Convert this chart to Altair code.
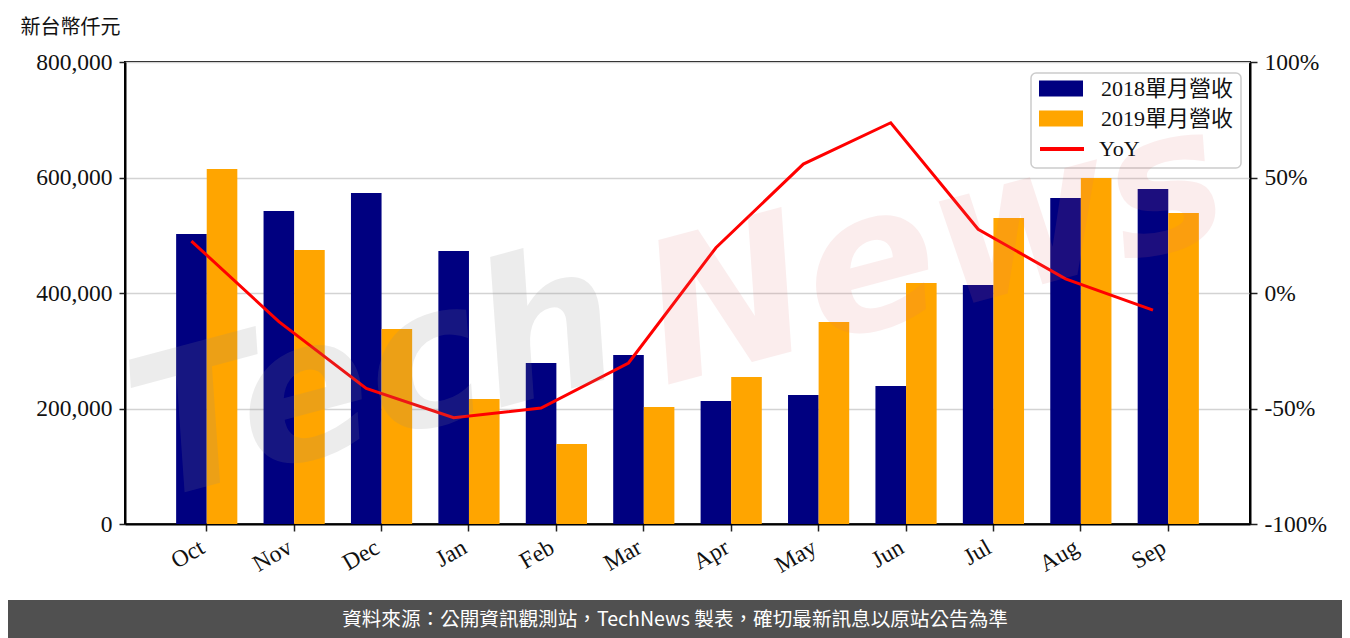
import altair as alt
import pandas as pd

# ---------------- data ----------------
months = ["Oct", "Nov", "Dec", "Jan", "Feb", "Mar", "Apr", "May", "Jun", "Jul", "Aug", "Sep"]
rev_2018 = [502000, 542000, 573000, 472700, 279000, 292600, 213000, 223400, 239000, 413900, 564500, 580000]
rev_2019 = [614700, 474500, 337700, 216500, 138500, 202600, 254500, 349800, 417300, 529900, 599000, 538500]
yoy_pct = [22.5, -12.4, -41.3, -54.0, -49.8, -30.3, 19.6, 55.8, 73.7, 27.6, 6.1, -7.4]
bar_series = ["2018單月營收", "2019單月營收"]
bar_colors = ["#000080", "#FFA500"]
line_series = ["YoY"]
line_colors = ["#FF0000"]
y_title = "新台幣仟元"
footer_text = "資料來源：公開資訊觀測站，TechNews 製表，確切最新訊息以原站公告為準"

bars_df = pd.DataFrame(
    [{"month": m, "series": bar_series[0], "value": v} for m, v in zip(months, rev_2018)]
    + [{"month": m, "series": bar_series[1], "value": v} for m, v in zip(months, rev_2019)]
)
line_df = pd.DataFrame({"month": months, "yoy": yoy_pct, "series": line_series[0],
                        "idx": list(range(len(months)))})

# ---------------- layout ----------------
W, H = 1125, 462
PAD_IN, PAD_OUT = 0.3, 0.585
step = W / (len(months) - PAD_IN + 2 * PAD_OUT)
FONT = "Liberation Serif, Noto Sans CJK TC"
SANS = "Noto Sans CJK TC"
TICK_FS = 23.5

x_enc = alt.X(
    "month:N",
    sort=months,
    scale=alt.Scale(paddingInner=PAD_IN, paddingOuter=PAD_OUT),
    axis=alt.Axis(
        title=None, labelAngle=330, labelAlign="right", labelBaseline="top",
        labelFont=FONT, labelFontSize=TICK_FS, labelColor="#111111", labelPadding=4,
        labelOffset=-10,
        tickSize=7, tickColor="#222222", tickWidth=1.5,
        domainColor="black", domainWidth=2, grid=False,
    ),
)

legend_common = dict(
    title=None, orient="none", labelFont=FONT, labelFontSize=22, labelColor="#111111",
    symbolSize=400, rowPadding=8, padding=0, legendX=925,
)

bars = alt.Chart(bars_df).mark_bar().encode(
    x=x_enc,
    xOffset=alt.XOffset("series:N", scale=alt.Scale(domain=bar_series, paddingInner=0, paddingOuter=0)),
    y=alt.Y(
        "value:Q",
        scale=alt.Scale(domain=[0, 800000], nice=False),
        axis=alt.Axis(
            values=[0, 200000, 400000, 600000, 800000], format=",d",
            title=y_title, titleAngle=0, titleX=-105, titleY=-35,
            titleAlign="left", titleBaseline="middle",
            titleFont=FONT, titleFontSize=20, titleFontWeight="normal", titleColor="#111111",
            labelFont=FONT, labelFontSize=TICK_FS, labelColor="#111111", labelPadding=7,
            tickSize=6, tickColor="#222222", tickWidth=1.5,
            domainColor="black", domainWidth=2,
            grid=True, gridColor="#d3d3d3", gridWidth=1.5,
        ),
    ),
    color=alt.Color(
        "series:N",
        scale=alt.Scale(domain=bar_series, range=bar_colors),
        legend=alt.Legend(symbolType="M-2.2,-0.8H2.2V0.8H-2.2Z", symbolStrokeWidth=0,
                          symbolOpacity=1, legendY=15.5, labelOffset=29, **legend_common),
    ),
)

line = alt.Chart(line_df).mark_line(strokeWidth=3, xOffset=-0.175 * step).encode(
    x=x_enc,
    y=alt.Y(
        "yoy:Q",
        scale=alt.Scale(domain=[-100, 100], nice=False),
        axis=alt.Axis(
            orient="right", values=[-100, -50, 0, 50, 100],
            labelExpr="(datum.value < 0 ? '-' : '') + abs(datum.value) + '%'",
            title=None, labelFont=FONT, labelFontSize=TICK_FS, labelColor="#111111", labelPadding=7,
            tickSize=7, tickColor="#222222", tickWidth=1.5,
            domainColor="black", domainWidth=2, grid=False,
        ),
    ),
    stroke=alt.Stroke(
        "series:N",
        scale=alt.Scale(domain=line_series, range=line_colors),
        legend=alt.Legend(symbolType="M-2.2,0H2.2", symbolStrokeWidth=4,
                          legendY=75, labelOffset=25, **legend_common),
    ),
    order=alt.Order("idx:Q"),
)

legend_box = alt.Chart(pd.DataFrame({"t": ["box"]})).mark_rect(
    fill="white", stroke="#cccccc", strokeWidth=1.5, cornerRadius=5
).encode(x=alt.value(906), x2=alt.value(1116), y=alt.value(11), y2=alt.value(106))

wm_tech = alt.Chart(pd.DataFrame({"t": ["Tech"]})).mark_text(
    font="DejaVu Sans", fontSize=195, fontWeight="bold", fontStyle="italic",
    angle=345, color="#8c8c8c", opacity=0.16, align="center", baseline="middle",
).encode(text="t:N", x=alt.value(250), y=alt.value(318))

wm_news = alt.Chart(pd.DataFrame({"t": ["News"]})).mark_text(
    font="DejaVu Sans", fontSize=195, fontWeight="bold", fontStyle="italic",
    angle=345, color="#e07070", opacity=0.12, align="center", baseline="middle",
).encode(text="t:N", x=alt.value(810), y=alt.value(190))

footer_rect = alt.Chart(pd.DataFrame({"t": [footer_text]})).mark_rect(color="#505050").encode(
    x=alt.value(-117), x2=alt.value(1217), y=alt.value(538), y2=alt.value(580)
)
footer_label = alt.Chart(pd.DataFrame({"t": [footer_text]})).mark_text(
    font=SANS, fontSize=19.6, color="white", align="center", baseline="middle"
).encode(text="t:N", x=alt.value(550), y=alt.value(558))

chart = (
    alt.layer(bars, line, legend_box, wm_tech, wm_news, footer_rect, footer_label)
    .resolve_scale(y="independent")
    .properties(
        width=W, height=H,
        padding={"left": 117, "top": 54, "right": 92, "bottom": 114},
        autosize=alt.AutoSizeParams(type="none"),
        background="white",
    )
    .configure_view(stroke="black", strokeWidth=2)
)

chart.save("out.html", embed_options={"renderer": "svg", "actions": False})
